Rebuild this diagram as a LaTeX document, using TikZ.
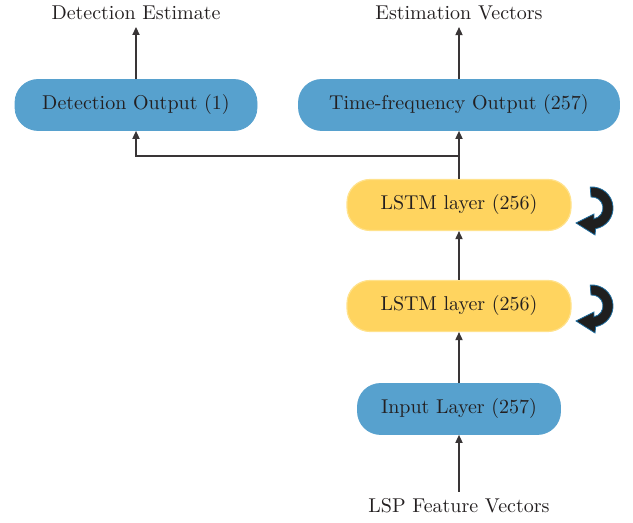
\documentclass[tikz,border=0pt]{standalone}
\usepackage{xcolor}
\usepackage{tikz}
\usetikzlibrary{arrows.meta,positioning,calc}
\definecolor{netblue}{RGB}{87, 161, 206}
\definecolor{lstmyellow}{RGB}{255, 212, 95}
\definecolor{lstmedge}{RGB}{255, 226, 140}
\definecolor{inktext}{RGB}{35, 31, 32}
\definecolor{loopedge}{RGB}{30, 110, 160}

\begin{document}
\begin{tikzpicture}[x=0.5pt, y=0.5pt, >={Triangle[length=4pt,width=3.6pt]},
    bluebox/.style={fill=netblue, draw=netblue, rounded corners=11.5pt, minimum height=25.5pt, text=inktext},
    yellowbox/.style={fill=lstmyellow, draw=lstmedge, line width=0.6pt, rounded corners=11.5pt, minimum height=25.5pt, minimum width=112pt, text=inktext},
    conn/.style={->, draw=inktext!90, line width=0.55pt},
    loopback/.pic={
        \fill[black!88, draw=loopedge, line width=0.4pt]
            (-1.8,20.9) arc[start angle=95, end angle=-80, radius=10.5pt]
            -- (3,-27) -- (-16,-15) -- (2,-6)
            -- (1.9,-10.8) arc[start angle=-80, end angle=95, radius=5.5pt] -- cycle;
    }]
    \useasboundingbox (0,0) rectangle (633,523);

    % outputs
    \node[bluebox, minimum width=121pt] (detout) at (136,418) {Detection Output (1)};
    \node[bluebox, minimum width=160.5pt] (tfout) at (459,418) {Time-frequency Output (257)};
    \node[text=inktext] (detest) at (136,510) {Detection Estimate};
    \node[text=inktext] (estvec) at (459,510) {Estimation Vectors};

    % recurrent layers
    \node[yellowbox] (lstmA) at (459,318) {LSTM layer (256)};
    \node[yellowbox] (lstmB) at (459,217) {LSTM layer (256)};
    \pic at (592,315) {loopback};
    \pic at (592,217) {loopback};

    % input
    \node[bluebox, minimum width=101.5pt] (inlayer) at (459,114) {Input Layer (257)};
    \node[text=inktext] (lsp) at (459,17) {LSP Feature Vectors};

    % connectors
    \draw[conn] (lsp) -- (inlayer);
    \draw[conn] (inlayer) -- (lstmB);
    \draw[conn] (lstmB) -- (lstmA);
    \draw[conn] (lstmA) -- (tfout);
    \coordinate (split) at (459,367);
    \draw[conn] (split) -| (detout);
    \draw[conn] (detout) -- (detest);
    \draw[conn] (tfout) -- (estvec);
\end{tikzpicture}
\end{document}
